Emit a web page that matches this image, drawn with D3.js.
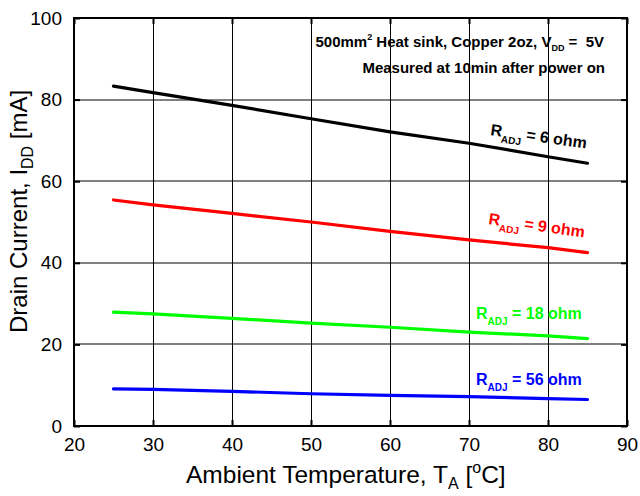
<!DOCTYPE html>
<html>
<head>
<meta charset="utf-8">
<script src="https://cdn.jsdelivr.net/npm/d3@7"></script>
<style>
  html, body { margin: 0; padding: 0; background: #fff; }
  svg { display: block; font-family: "Liberation Sans", Arial, sans-serif; }
</style>
</head>
<body>
<svg id="chart" width="640" height="496"></svg>
<script>
// Drain current vs ambient temperature for several R_ADJ values
const temps = [25, 30, 40, 50, 60, 70, 80, 85];
const iR6  = [83.3, 81.7, 78.6, 75.3, 72.1, 69.3, 66.0, 64.4];
const iR9  = [55.4, 54.2, 52.1, 50.0, 47.7, 45.6, 43.7, 42.5];
const iR18 = [27.9, 27.5, 26.4, 25.2, 24.2, 23.0, 22.1, 21.4];
const iR56 = [9.1, 9.0, 8.5, 7.9, 7.5, 7.2, 6.7, 6.5];

const seriesNames = ["6", "9", "18", "56"];
const seriesValues = [iR6, iR9, iR18, iR56];
const seriesColors = ["#000000", "#ff0000", "#00ff00", "#0000ff"];

const xTicks = [20, 30, 40, 50, 60, 70, 80, 90];
const yTicks = [0, 20, 40, 60, 80, 100];

const W = 640, H = 496;
const margin = { left: 74, right: 13, top: 18, bottom: 70 };
const svg = d3.select("#chart");

const x = d3.scaleLinear().domain([20, 90]).range([margin.left, W - margin.right]);
const y = d3.scaleLinear().domain([0, 100]).range([H - margin.bottom, margin.top]);
const x0 = x.range()[0], x1 = x.range()[1];
const y0 = y.range()[0], y1 = y.range()[1];

// grid
const grid = svg.append("g");
grid.selectAll("line.h").data(yTicks.slice(1, -1)).join("line")
  .attr("x1", x0).attr("x2", x1)
  .attr("y1", d => Math.round(y(d))).attr("y2", d => Math.round(y(d)))
  .attr("stroke", "#808080").attr("stroke-width", 2);
grid.selectAll("line.v").data(xTicks.slice(1, -1)).join("line")
  .attr("y1", y0).attr("y2", y1)
  .attr("x1", d => Math.round(x(d)) + 0.5).attr("x2", d => Math.round(x(d)) + 0.5)
  .attr("stroke", "#000").attr("stroke-width", 1);

// axes with inward ticks on all four sides
const tickLen = 6;
const axFont = 19;
const axB = svg.append("g").attr("transform", `translate(0,${y0})`)
  .call(d3.axisBottom(x).tickValues(xTicks).tickSize(-tickLen).tickPadding(12));
const axT = svg.append("g").attr("transform", `translate(0,${y1})`)
  .call(d3.axisTop(x).tickValues(xTicks).tickSize(-tickLen).tickFormat(""));
const axL = svg.append("g").attr("transform", `translate(${x0},0)`)
  .call(d3.axisLeft(y).tickValues(yTicks).tickSize(-tickLen).tickPadding(12));
const axR = svg.append("g").attr("transform", `translate(${x1},0)`)
  .call(d3.axisRight(y).tickValues(yTicks).tickSize(-tickLen).tickFormat(""));
[axB, axT, axL, axR].forEach(g => {
  g.select(".domain").remove();
  g.selectAll(".tick line").attr("stroke", "#000").attr("stroke-width", 2);
  g.selectAll("text").attr("font-size", axFont).attr("fill", "#000")
    .attr("font-family", "Liberation Sans, Arial, sans-serif");
});
axB.selectAll("text").attr("dy", "0.71em");

// series lines
const line = d3.line().x((d, i) => x(temps[i])).y(d => y(d));
svg.append("g").selectAll("path").data(seriesValues).join("path")
  .attr("d", d => line(d))
  .attr("fill", "none")
  .attr("stroke", (d, i) => seriesColors[i])
  .attr("stroke-width", 3.2)
  .attr("stroke-linecap", "round");

// frame
svg.append("rect").attr("x", x0).attr("y", y1)
  .attr("width", x1 - x0).attr("height", y0 - y1)
  .attr("fill", "none").attr("stroke", "#000").attr("stroke-width", 2);

// series labels
const labelPos = [
  { x: 490, y: 135, rot: 8 },
  { x: 488, y: 224, rot: 8 },
  { x: 476, y: 319, rot: 0 },
  { x: 476, y: 385, rot: 0 }
];
seriesNames.forEach((name, i) => {
  const p = labelPos[i];
  const t = svg.append("text")
    .attr("transform", `translate(${p.x},${p.y}) rotate(${p.rot})`)
    .attr("fill", seriesColors[i]).attr("font-weight", "bold").attr("font-size", 16);
  t.append("tspan").text("R");
  t.append("tspan").attr("font-size", 10).attr("dy", 6).text("ADJ");
  t.append("tspan").attr("dy", -6).text(` = ${name} ohm`);
});

// condition notes
const n1 = svg.append("text").attr("x", 604).attr("y", 47)
  .attr("text-anchor", "end").attr("font-weight", "bold").attr("font-size", 15);
n1.append("tspan").text("500mm");
n1.append("tspan").attr("font-size", 9).attr("dy", -7).text("2");
n1.append("tspan").attr("dy", 7).text(" Heat sink, Copper 2oz, V");
n1.append("tspan").attr("font-size", 9).attr("dy", 4).text("DD");
n1.append("tspan").attr("dy", -4).text(" =\u00a0 5V");
svg.append("text").attr("x", 605).attr("y", 73)
  .attr("text-anchor", "end").attr("font-weight", "bold").attr("font-size", 15)
  .text("Measured at 10min after power on");

// axis titles
const xt = svg.append("text").attr("x", 186).attr("y", 483).attr("font-size", 24.5);
xt.append("tspan").text("Ambient Temperature, T");
xt.append("tspan").attr("font-size", 16).attr("dy", 6).text("A");
xt.append("tspan").attr("dy", -6).text(" [");
xt.append("tspan").attr("font-size", 16).attr("dy", -10).text("o");
xt.append("tspan").attr("dy", 10).text("C]");

const yt = svg.append("text")
  .attr("transform", "translate(27,333) rotate(-90)").attr("font-size", 24);
yt.append("tspan").text("Drain Current, I");
yt.append("tspan").attr("font-size", 16).attr("dy", 6).text("DD");
yt.append("tspan").attr("dy", -6).text(" [mA]");
</script>
</body>
</html>
